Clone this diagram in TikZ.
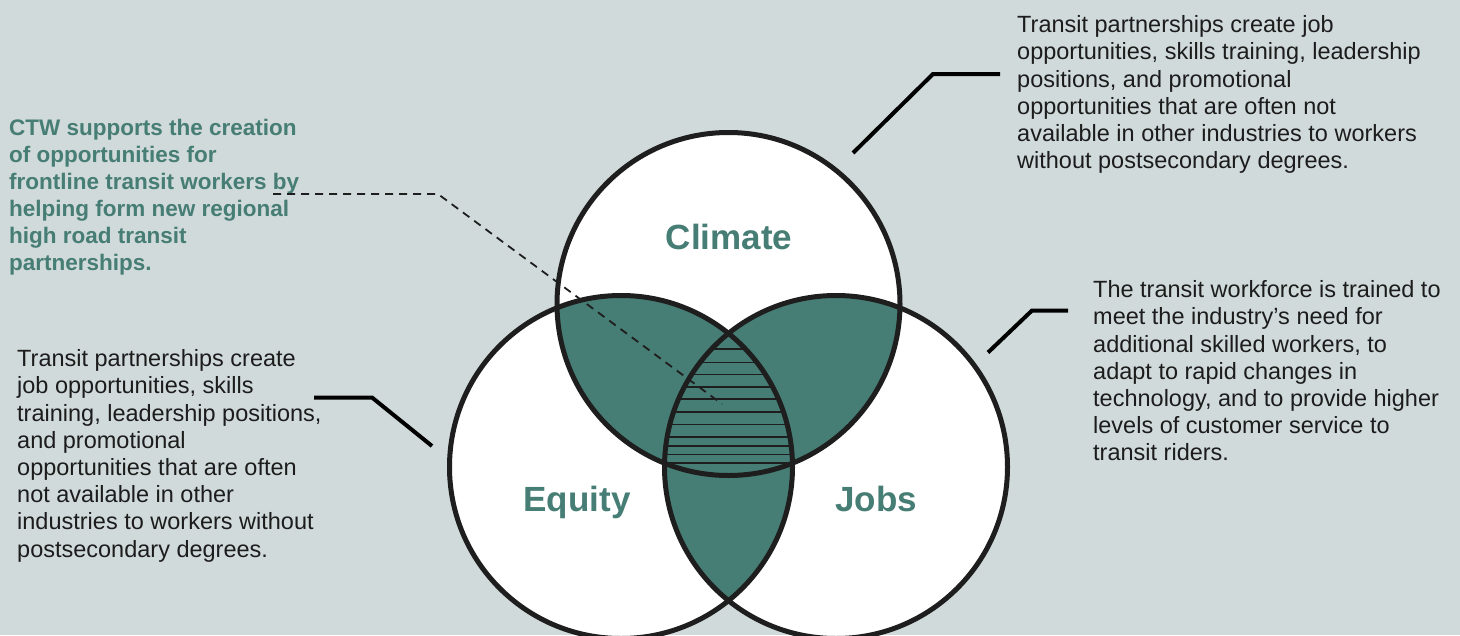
\documentclass[tikz,border=0pt]{standalone}
\usepackage{fontspec}
\setmainfont{Liberation Sans}
\definecolor{bgc}{RGB}{209,218,218}
\definecolor{tealc}{RGB}{70,125,116}
\definecolor{ink}{RGB}{30,30,30}
\definecolor{txtc}{RGB}{28,28,28}
\tikzset{
  body/.style={anchor=north west, inner sep=0pt, align=left, text=txtc,
    font=\fontsize{23.5}{27.2}\selectfont},
  greenbody/.style={anchor=north west, inner sep=0pt, align=left, text=tealc,
    font=\fontsize{22.5}{27}\selectfont\bfseries},
  setlabel/.style={anchor=base, inner sep=0pt, text=tealc,
    font=\fontsize{35}{40}\selectfont\bfseries},
  ring/.style={draw=ink, line width=5pt},
  leader/.style={draw=black, line width=4pt, line join=miter},
  hatch/.style={draw=ink, line width=1.6pt},
  pointer/.style={draw=ink, line width=1.8pt, dash pattern=on 8pt off 6pt}
}
\begin{document}
\begin{tikzpicture}[x=1pt,y=-1pt]
\fill[bgc] (0,0) rectangle (1460,635);
\useasboundingbox (0,0) rectangle (1460,635);
% circle centres
\coordinate (cC) at (728.5,304);
\coordinate (cE) at (621,467);
\coordinate (cJ) at (836,467);
\def\rr{171.5pt}
% white fills
\fill[white] (cC) circle[radius=\rr];
\fill[white] (cE) circle[radius=\rr];
\fill[white] (cJ) circle[radius=\rr];
% pairwise intersections
\begin{scope}
  \clip (cC) circle[radius=\rr];
  \fill[tealc] (cE) circle[radius=\rr];
  \fill[tealc] (cJ) circle[radius=\rr];
\end{scope}
\begin{scope}
  \clip (cE) circle[radius=\rr];
  \fill[tealc] (cJ) circle[radius=\rr];
\end{scope}
% hatch in triple region
\begin{scope}
  \clip (cC) circle[radius=\rr];
  \clip (cE) circle[radius=\rr];
  \clip (cJ) circle[radius=\rr];
  \foreach \yy in {349,362.5,374.5,386.7,399,411.7,424.3,436.7,446,454.3,462.7}
    \draw[hatch] (600,\yy) -- (860,\yy);
\end{scope}
% circle outlines
\node[circle, ring, minimum size=343pt, inner sep=0pt] (climate) at (cC) {};
\node[circle, ring, minimum size=343pt, inner sep=0pt] (equity) at (cE) {};
\node[circle, ring, minimum size=343pt, inner sep=0pt] (jobs) at (cJ) {};
% set labels
\node[setlabel] (lclimate) at (729,249.5) {Climate};
\node[setlabel] (lequity) at (577,511.5) {Equity};
\node[setlabel] (ljobs) at (876,511.5) {Jobs};
% texts
\node[greenbody] (ctw) at (9,118.5) {CTW supports the creation\\of opportunities for\\frontline transit workers by\\helping form new regional\\high road transit\\partnerships.};
\node[body] (trtext) at (1017,15.5) {Transit partnerships create job\\opportunities, skills training, leadership\\positions, and promotional\\opportunities that are often not\\available in other industries to workers\\without postsecondary degrees.};
\node[body] (rtext) at (1093,280.5) {The transit workforce is trained to\\meet the industry’s need for\\additional skilled workers, to\\adapt to rapid changes in\\technology, and to provide higher\\levels of customer service to\\transit riders.};
\node[body] (ltext) at (17,349.5) {Transit partnerships create\\job opportunities, skills\\training, leadership positions,\\and promotional\\opportunities that are often\\not available in other\\industries to workers without\\postsecondary degrees.};
% leader lines
\coordinate (tr1) at (853,153);
\coordinate (tr2) at (933,74);
\coordinate (tr3) at (1000,74);
\draw[leader] (tr1) -- (tr2) -- (tr3);
\coordinate (r1) at (988,352.5);
\coordinate (r2) at (1032,310.5);
\coordinate (r3) at (1068,310.5);
\draw[leader] (r1) -- (r2) -- (r3);
\coordinate (l1) at (314,397.5);
\coordinate (l2) at (372,397.5);
\coordinate (l3) at (432,446);
\draw[leader] (l1) -- (l2) -- (l3);
% dashed pointer
\coordinate (d1) at (273,194);
\coordinate (d2) at (438,194);
\coordinate (d3) at (722,404);
\draw[pointer] (d1) -- (d2) -- (d3);
\end{tikzpicture}
\end{document}
